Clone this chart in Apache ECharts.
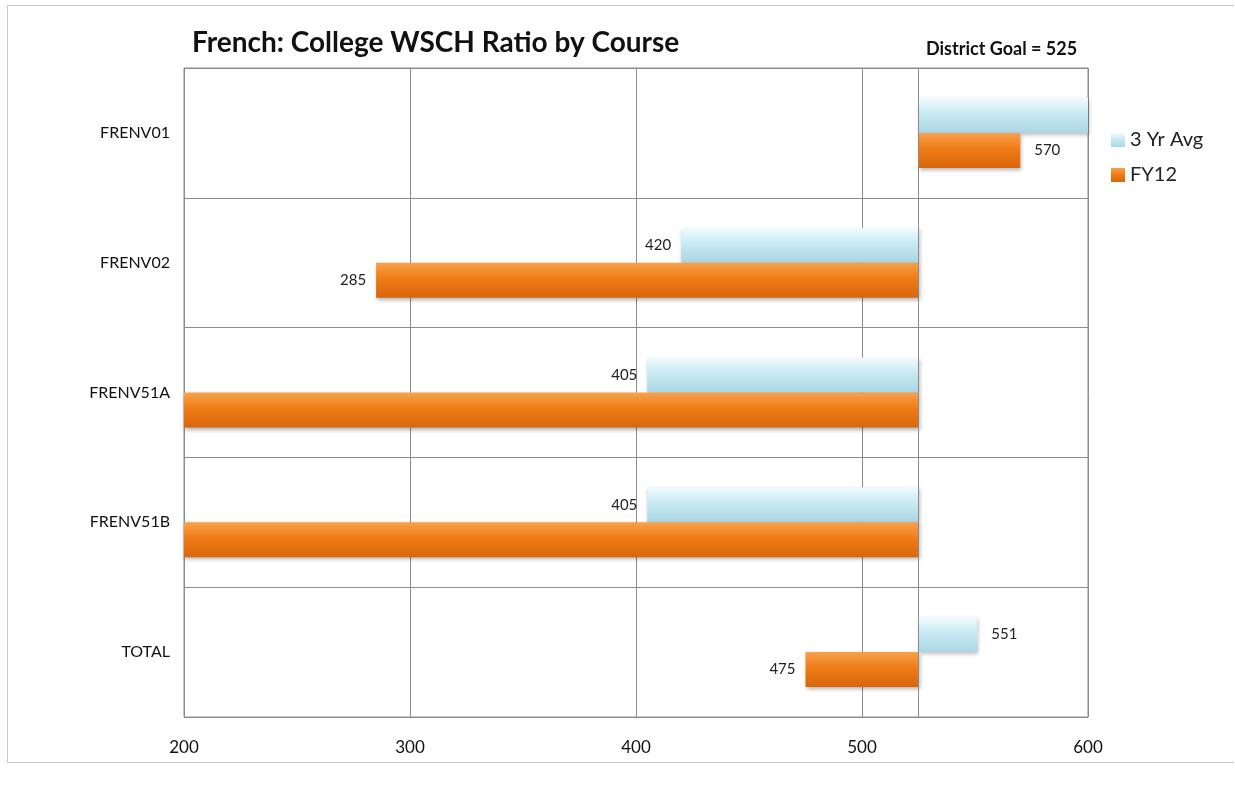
<!DOCTYPE html>
<html>
<head>
<meta charset="utf-8">
<script src="https://cdn.jsdelivr.net/npm/echarts@6/dist/echarts.min.js"></script>
<style>
  html, body { margin: 0; padding: 0; background: #fff; }
  #frame { position: absolute; left: 7px; top: 5px; width: 1226px; height: 756px; border: 1px solid #c8c8c8; border-right: none; }
  #chart { position: absolute; left: 0; top: 0; width: 1235px; height: 790px; }
</style>
</head>
<body>
<div id="frame"></div>
<div id="chart"></div>
<script>
// ---- data ----
var courses = ['FRENV01', 'FRENV02', 'FRENV51A', 'FRENV51B', 'TOTAL'];
var avg3yr = [640, 420, 405, 405, 551];   // FRENV01 runs past the right edge
var fy12 = [570, 285, 180, 180, 475];     // FRENV51A/B run past the left edge
var goal = 525;
var axisMin = 200, axisMax = 600, axisStep = 100;

// bars are drawn from the goal line out to the value:
// an invisible base up to min(v, goal), then the visible part |v - goal|
function baseOf(arr) { return arr.map(function (v) { return Math.min(v, goal); }); }
function spanOf(arr) {
    return arr.map(function (v) {
        var inRange = v >= axisMin && v <= axisMax;
        return {
            value: Math.abs(v - goal),
            label: {
                show: inRange,
                position: v < goal ? 'left' : 'right',
                distance: v < goal ? 10 : 14
            }
        };
    });
}

var fontMain = 'Lato, "Open Sans", sans-serif';

function grad(c0, c1, c2) {
    return new echarts.graphic.LinearGradient(0, 0, 0, 1, [
        { offset: 0, color: c0 },
        { offset: 0.45, color: c1 },
        { offset: 1, color: c2 }
    ]);
}

var chart = echarts.init(document.getElementById('chart'), null, { renderer: 'canvas' });

var labelStyle = { color: '#222', fontSize: 15, fontFamily: fontMain };

var option = {
    backgroundColor: 'transparent',
    animation: false,
    title: [{
        text: 'French: College WSCH Ratio by Course',
        left: 187, top: 24,
        textStyle: { fontSize: 28, fontWeight: 'bold', color: '#111', fontFamily: fontMain }
    }, {
        text: 'District Goal = 525',
        left: 921, top: 35,
        textStyle: { fontSize: 18, fontWeight: 'bold', color: '#111', fontFamily: fontMain }
    }],
    legend: {
        orient: 'vertical',
        left: 1106, top: 125,
        itemWidth: 14, itemHeight: 14, itemGap: 15,
        icon: 'rect',
        data: ['3 Yr Avg', 'FY12'],
        textStyle: { fontSize: 20, color: '#222', fontFamily: fontMain }
    },
    grid: {
        left: 184, right: 147, top: 68, bottom: 73,
        show: true, borderColor: '#8c8c8c', borderWidth: 1
    },
    xAxis: {
        type: 'value',
        min: axisMin, max: axisMax, interval: axisStep,
        axisLine: { show: false },
        axisTick: { show: false },
        axisLabel: { fontSize: 17, color: '#111', margin: 22, fontFamily: fontMain },
        splitLine: { lineStyle: { color: '#8c8c8c', width: 1 } }
    },
    yAxis: {
        type: 'category',
        data: courses,
        inverse: true,
        axisLine: { show: false },
        axisTick: { show: false },
        axisLabel: { fontSize: 16, color: '#111', margin: 14, fontFamily: fontMain },
        splitLine: { show: true, lineStyle: { color: '#8c8c8c', width: 1 } }
    },
    series: [{
        name: 'avgBase', type: 'bar', stack: 'avg',
        data: baseOf(avg3yr),
        barWidth: 35, barGap: '0%',
        itemStyle: { color: 'transparent' },
        silent: true, clip: true,
        markLine: {
            silent: true, symbol: 'none', label: { show: false },
            lineStyle: { color: '#8c8c8c', type: 'solid', width: 1 },
            data: [{ xAxis: goal }]
        }
    }, {
        name: '3 Yr Avg', type: 'bar', stack: 'avg',
        data: spanOf(avg3yr),
        barWidth: 35, barGap: '0%', clip: true,
        itemStyle: {
            color: grad('#f2fbfd', '#c8eaf3', '#aad6e3'),
            shadowBlur: 4, shadowColor: 'rgba(0,0,0,0.25)', shadowOffsetY: 2, shadowOffsetX: 1
        },
        label: Object.assign({
            formatter: function (p) { return avg3yr[p.dataIndex]; }
        }, labelStyle)
    }, {
        name: 'fyBase', type: 'bar', stack: 'fy',
        data: baseOf(fy12),
        barWidth: 35, barGap: '0%',
        itemStyle: { color: 'transparent' },
        silent: true, clip: true
    }, {
        name: 'FY12', type: 'bar', stack: 'fy',
        data: spanOf(fy12),
        barWidth: 35, barGap: '0%', clip: true,
        itemStyle: {
            color: grad('#f7a24c', '#ef7c16', '#d8670c'),
            shadowBlur: 4, shadowColor: 'rgba(0,0,0,0.3)', shadowOffsetY: 2, shadowOffsetX: 1
        },
        label: Object.assign({
            formatter: function (p) { return fy12[p.dataIndex]; }
        }, labelStyle)
    }]
};

chart.setOption(option);
</script>
</body>
</html>
